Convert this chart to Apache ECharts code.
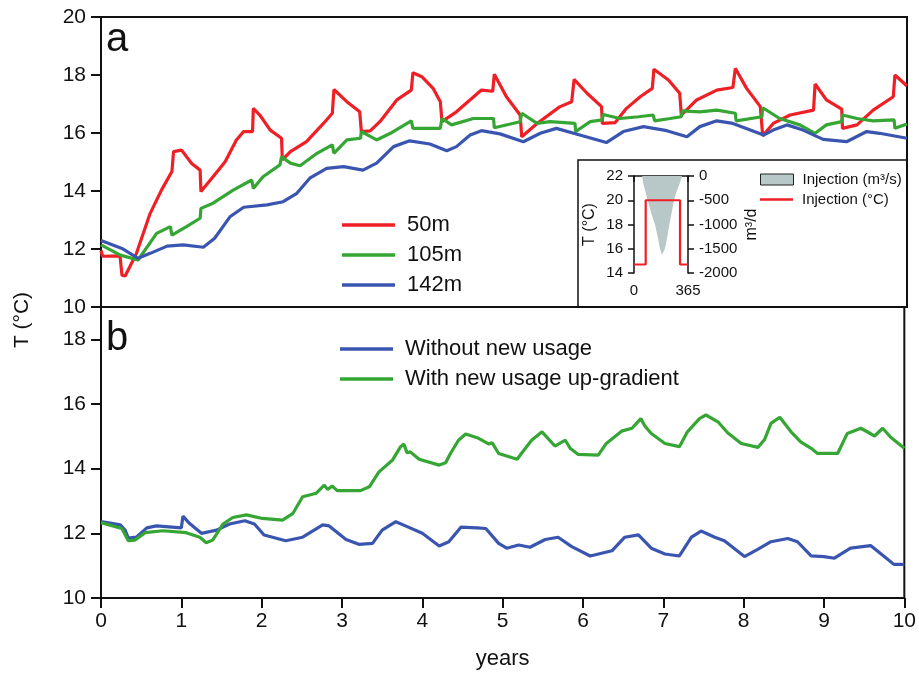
<!DOCTYPE html>
<html>
<head>
<meta charset="utf-8">
<script src="https://cdn.jsdelivr.net/npm/echarts@6/dist/echarts.min.js"></script>
<style>
  html, body { margin: 0; padding: 0; background: #fff; }
  #chart { width: 919px; height: 677px; }
</style>
</head>
<body>
<div id="chart"></div>
<script>
// ---- Panel a: observation wells at three depths, [years, °C] ----
const well50m = [
  [0, 11.95], [0.02, 11.75], [0.236, 11.76], [0.26, 11.1], [0.3, 11.07], [0.44, 11.85],
  [0.61, 13.23], [0.75, 14.03], [0.88, 14.67], [0.9, 15.36], [1.0, 15.41], [1.125, 14.95],
  [1.23, 14.72], [1.24, 13.98], [1.39, 14.49], [1.54, 15.01], [1.68, 15.76], [1.77, 16.05],
  [1.88, 16.05], [1.89, 16.85], [1.97, 16.62], [2.1, 16.1], [2.24, 15.82], [2.25, 15.07],
  [2.35, 15.36], [2.55, 15.7], [2.76, 16.33], [2.87, 16.68], [2.89, 17.5], [3.05, 17.08],
  [3.21, 16.73], [3.23, 16.05], [3.34, 16.07], [3.46, 16.39], [3.67, 17.14], [3.85, 17.48],
  [3.87, 18.08], [3.98, 17.94], [4.12, 17.54], [4.21, 17.08], [4.23, 16.39], [4.41, 16.73],
  [4.72, 17.48], [4.86, 17.44], [4.88, 18.03], [5.03, 17.25], [5.2, 16.62], [5.22, 15.87],
  [5.41, 16.33], [5.69, 16.9], [5.84, 17.08], [5.87, 17.85], [6.03, 17.37], [6.21, 16.91],
  [6.22, 16.33], [6.38, 16.36], [6.52, 16.85], [6.69, 17.25], [6.84, 17.54], [6.86, 18.2],
  [7.04, 17.83], [7.18, 17.37], [7.2, 16.62], [7.39, 17.14], [7.64, 17.48], [7.84, 17.57],
  [7.87, 18.23], [8.01, 17.54], [8.18, 16.91], [8.21, 15.9], [8.34, 16.33], [8.55, 16.62],
  [8.84, 16.79], [8.86, 17.69], [9.0, 17.14], [9.19, 16.82], [9.2, 16.16], [9.38, 16.28],
  [9.58, 16.79], [9.83, 17.25], [9.85, 18.0], [10.0, 17.62]
];
const well105m = [
  [0, 12.14], [0.24, 11.79], [0.46, 11.62], [0.69, 12.54], [0.86, 12.77], [0.88, 12.48],
  [1.06, 12.77], [1.23, 13.06], [1.24, 13.4], [1.39, 13.58], [1.64, 14.03], [1.87, 14.38],
  [1.89, 14.09], [2.01, 14.49], [2.22, 14.9], [2.24, 15.18], [2.35, 14.96], [2.47, 14.87],
  [2.68, 15.3], [2.87, 15.59], [2.89, 15.3], [3.05, 15.76], [3.22, 15.82], [3.23, 16.05],
  [3.42, 15.76], [3.59, 15.99], [3.85, 16.42], [3.87, 16.16], [4.21, 16.16], [4.23, 16.5],
  [4.35, 16.28], [4.62, 16.5], [4.87, 16.5], [4.88, 16.18], [5.2, 16.39], [5.22, 16.68],
  [5.41, 16.33], [5.57, 16.39], [5.88, 16.33], [5.89, 16.05], [6.07, 16.39], [6.22, 16.45],
  [6.23, 16.64], [6.44, 16.5], [6.67, 16.56], [6.85, 16.62], [6.87, 16.42], [7.06, 16.5],
  [7.2, 16.56], [7.21, 16.76], [7.43, 16.73], [7.64, 16.79], [7.87, 16.68], [7.88, 16.42],
  [8.2, 16.56], [8.21, 16.87], [8.42, 16.5], [8.67, 16.28], [8.86, 15.99], [9.0, 16.28],
  [9.19, 16.39], [9.2, 16.62], [9.38, 16.5], [9.58, 16.42], [9.84, 16.45], [9.85, 16.16],
  [10.0, 16.31]
];
const well142m = [
  [0, 12.29], [0.26, 12.02], [0.46, 11.68], [0.61, 11.85], [0.82, 12.1], [1.02, 12.14],
  [1.27, 12.06], [1.41, 12.37], [1.6, 13.11], [1.77, 13.44], [2.06, 13.52], [2.26, 13.63],
  [2.43, 13.92], [2.59, 14.44], [2.8, 14.78], [3.01, 14.84], [3.25, 14.72], [3.42, 14.96],
  [3.63, 15.53], [3.83, 15.73], [4.08, 15.62], [4.29, 15.39], [4.41, 15.53], [4.58, 15.93],
  [4.72, 16.08], [4.95, 15.97], [5.24, 15.7], [5.45, 15.99], [5.65, 16.16], [5.94, 15.93],
  [6.27, 15.67], [6.48, 16.05], [6.73, 16.22], [7.02, 16.08], [7.27, 15.87], [7.43, 16.22],
  [7.64, 16.42], [7.84, 16.33], [8.22, 15.93], [8.34, 16.1], [8.51, 16.28], [8.71, 16.1],
  [8.96, 15.78], [9.25, 15.7], [9.5, 16.05], [9.66, 15.99], [10.0, 15.82]
];

// ---- Panel b: scenario comparison, [years, °C] ----
const withoutUsage = [
  [0, 12.36], [0.24, 12.26], [0.3, 12.1], [0.34, 11.85], [0.44, 11.88], [0.57, 12.17],
  [0.69, 12.23], [1.0, 12.17], [1.02, 12.53], [1.1, 12.31], [1.25, 12.0], [1.44, 12.1],
  [1.6, 12.29], [1.79, 12.39], [1.91, 12.29], [2.03, 11.95], [2.3, 11.77], [2.51, 11.88],
  [2.76, 12.26], [2.84, 12.23], [3.05, 11.81], [3.21, 11.66], [3.38, 11.69], [3.5, 12.1],
  [3.67, 12.36], [3.79, 12.23], [4.0, 12.0], [4.21, 11.61], [4.33, 11.74], [4.48, 12.19],
  [4.68, 12.17], [4.79, 12.15], [4.95, 11.69], [5.05, 11.54], [5.2, 11.64], [5.34, 11.57],
  [5.53, 11.81], [5.69, 11.88], [5.86, 11.59], [6.09, 11.3], [6.36, 11.46], [6.52, 11.88],
  [6.69, 11.95], [6.85, 11.54], [7.02, 11.36], [7.2, 11.3], [7.35, 11.88], [7.47, 12.07],
  [7.64, 11.88], [7.76, 11.77], [8.01, 11.28], [8.18, 11.51], [8.34, 11.74], [8.55, 11.84],
  [8.67, 11.74], [8.84, 11.3], [9.0, 11.28], [9.13, 11.23], [9.33, 11.54], [9.58, 11.62],
  [9.75, 11.28], [9.87, 11.04], [10.0, 11.04]
];
const withUsage = [
  [0, 12.33], [0.26, 12.15], [0.34, 11.77], [0.42, 11.79], [0.55, 12.02], [0.77, 12.08],
  [1.06, 12.02], [1.23, 11.88], [1.31, 11.71], [1.39, 11.79], [1.52, 12.29], [1.64, 12.49],
  [1.81, 12.57], [2.01, 12.46], [2.26, 12.41], [2.39, 12.62], [2.51, 13.13], [2.68, 13.24],
  [2.78, 13.49], [2.82, 13.36], [2.88, 13.46], [2.94, 13.32], [3.23, 13.32], [3.34, 13.44],
  [3.46, 13.9], [3.63, 14.27], [3.73, 14.68], [3.77, 14.76], [3.81, 14.49], [3.85, 14.52],
  [3.96, 14.29], [4.21, 14.11], [4.29, 14.18], [4.35, 14.47], [4.45, 14.88], [4.54, 15.07],
  [4.7, 14.94], [4.83, 14.76], [4.87, 14.8], [4.95, 14.47], [5.18, 14.29], [5.24, 14.49],
  [5.36, 14.88], [5.49, 15.14], [5.65, 14.7], [5.78, 14.88], [5.84, 14.63], [5.94, 14.44],
  [6.19, 14.42], [6.29, 14.78], [6.48, 15.16], [6.61, 15.25], [6.72, 15.55], [6.77, 15.32],
  [6.85, 15.09], [7.02, 14.78], [7.2, 14.68], [7.3, 15.14], [7.45, 15.55], [7.53, 15.66],
  [7.68, 15.45], [7.8, 15.11], [7.97, 14.78], [8.18, 14.66], [8.26, 14.9], [8.34, 15.4],
  [8.45, 15.59], [8.59, 15.14], [8.71, 14.83], [8.84, 14.63], [8.92, 14.47], [9.17, 14.47],
  [9.29, 15.09], [9.46, 15.25], [9.63, 15.01], [9.73, 15.25], [9.83, 14.97], [10.0, 14.63]
];

// ---- Inset: yearly injection cycle, [day of year, value] ----
const injectionRate = [
  [55, 0], [62, -150], [75, -300], [92, -500], [115, -750], [142, -1000], [160, -1250],
  [176, -1500], [189, -1630], [209, -1500], [225, -1250], [239, -1000], [255, -750],
  [270, -500], [290, -300], [310, -150], [325, 0]
];
const injectionTemp = [
  [0, 14.7], [79, 14.7], [79, 20], [311, 20], [311, 14.7], [365, 14.7]
];

const RED = '#ee1f25', GREEN = '#35a634', BLUE = '#3a55b0';
const FONT = 'Liberation Sans, Arial, sans-serif';

const chart = echarts.init(document.getElementById('chart'), null, { renderer: 'canvas' });

const axisLine = { show: true, lineStyle: { color: '#111', width: 2 } };
const axisTick = { show: true, inside: false, length: 10, lineStyle: { color: '#111', width: 2 } };
const mainLabel = { fontFamily: FONT, fontSize: 21, color: '#111' };
const insetLine = { show: true, lineStyle: { color: '#111', width: 1.5 } };
const insetTick = { show: true, inside: false, length: 6, lineStyle: { color: '#111', width: 1.5 } };
const insetLabel = { fontFamily: FONT, fontSize: 15, color: '#111', formatter: v => String(v) };

function lineSeries(name, data, color, xi, yi, width) {
  return {
    name, type: 'line', data, xAxisIndex: xi, yAxisIndex: yi,
    symbol: 'none', smooth: false, color,
    lineStyle: { color, width: width || 3.2 },
    animation: false, z: 3
  };
}

// legend rows drawn as flat strokes
const legendText = { fontFamily: FONT, fontSize: 22, color: '#111', lineHeight: 20, padding: [0, 0, 0, 7] };
const insetLegendText = { fontFamily: FONT, fontSize: 15, color: '#111', lineHeight: 14, padding: [0, 0, 0, 4] };

const option = {
  backgroundColor: '#fff',
  animation: false,
  grid: [
    { left: 101, top: 17, width: 806, height: 290, show: true, borderColor: '#111', borderWidth: 2, containLabel: false },
    { left: 101, top: 307, width: 806, height: 291, show: true, borderColor: '#111', borderWidth: 2, containLabel: false },
    { left: 634, top: 176, width: 54, height: 97, show: false, containLabel: false }
  ],
  xAxis: [
    { type: 'value', gridIndex: 0, min: 0, max: 10, interval: 1,
      axisLine, axisTick: { show: false }, axisLabel: { show: false }, splitLine: { show: false } },
    { type: 'value', gridIndex: 1, min: 0, max: 10, interval: 1,
      axisLine, axisTick, axisLabel: Object.assign({ margin: 13 }, mainLabel), splitLine: { show: false },
      name: 'years', nameLocation: 'middle', nameGap: 50,
      nameTextStyle: { fontFamily: FONT, fontSize: 22, color: '#111' } },
    { type: 'value', gridIndex: 2, min: 0, max: 365, interval: 365,
      axisLine: insetLine, axisTick: insetTick, axisLabel: Object.assign({ margin: 10 }, insetLabel),
      splitLine: { show: false } }
  ],
  yAxis: [
    { type: 'value', gridIndex: 0, min: 10, max: 20, interval: 2,
      axisLine, axisTick, axisLabel: Object.assign({ margin: 15 }, mainLabel), splitLine: { show: false } },
    { type: 'value', gridIndex: 1, min: 10, max: 19, interval: 2,
      axisLine, axisTick, axisLabel: Object.assign({ margin: 15, showMaxLabel: false }, mainLabel),
      splitLine: { show: false } },
    { type: 'value', gridIndex: 2, min: 14, max: 22, interval: 2, position: 'left',
      axisLine: insetLine, axisTick: insetTick, axisLabel: Object.assign({ margin: 11 }, insetLabel),
      splitLine: { show: false },
      name: 'T (°C)', nameLocation: 'middle', nameRotate: 90, nameGap: 36,
      nameTextStyle: { fontFamily: FONT, fontSize: 16, color: '#111' } },
    { type: 'value', gridIndex: 2, min: -2000, max: 0, interval: 500, position: 'right',
      axisLine: insetLine, axisTick: insetTick, axisLabel: Object.assign({ margin: 11 }, insetLabel),
      splitLine: { show: false },
      name: 'm³/d', nameLocation: 'middle', nameRotate: 90, nameGap: 56,
      nameTextStyle: { fontFamily: FONT, fontSize: 16, color: '#111' } }
  ],
  legend: [
    { data: ['50m', '105m', '142m'], icon: 'rect', orient: 'vertical', left: 342, top: 214, padding: 0,
      itemWidth: 53, itemHeight: 3.5, itemGap: 8, selectedMode: false, textStyle: legendText },
    { data: ['Without new usage', 'With new usage up-gradient'], icon: 'rect', orient: 'vertical',
      left: 340, top: 338, padding: 0, itemWidth: 53, itemHeight: 3.5, itemGap: 8, selectedMode: false,
      textStyle: legendText },
    { data: [{ name: 'Injection (m³/s)', icon: 'rect',
               itemStyle: { color: '#b8c8c8', borderColor: '#222', borderWidth: 1 } }],
      orient: 'vertical', left: 760, top: 172, padding: 0,
      itemWidth: 33, itemHeight: 11, selectedMode: false, textStyle: insetLegendText },
    { data: [{ name: 'Injection (°C)', icon: 'rect' }],
      orient: 'vertical', left: 760, top: 192, padding: 0,
      itemWidth: 33, itemHeight: 2.4, selectedMode: false, textStyle: insetLegendText }
  ],
  graphic: [
    { type: 'rect', shape: { x: 578, y: 160, width: 329, height: 147 },
      style: { fill: 'none', stroke: '#111', lineWidth: 1.5 }, z: 2 },
    { type: 'text', x: 106, y: 40,
      style: { text: 'a', fontFamily: FONT, fontSize: 40, fill: '#111', verticalAlign: 'middle' } },
    { type: 'text', x: 106, y: 339,
      style: { text: 'b', fontFamily: FONT, fontSize: 40, fill: '#111', verticalAlign: 'middle' } },
    { type: 'text', x: 22, y: 320, rotation: Math.PI / 2,
      style: { text: 'T (°C)', fontFamily: FONT, fontSize: 21, fill: '#111', align: 'center', verticalAlign: 'middle' } }
  ],
  series: [
    lineSeries('50m', well50m, RED, 0, 0),
    lineSeries('105m', well105m, GREEN, 0, 0),
    lineSeries('142m', well142m, BLUE, 0, 0),
    lineSeries('Without new usage', withoutUsage, BLUE, 1, 1),
    lineSeries('With new usage up-gradient', withUsage, GREEN, 1, 1),
    { name: 'Injection (m³/s)', type: 'line', data: injectionRate, xAxisIndex: 2, yAxisIndex: 3,
      symbol: 'none', color: '#b8c8c8', lineStyle: { width: 0 },
      areaStyle: { color: '#b8c8c8', opacity: 1 }, z: 2 },
    lineSeries('Injection (°C)', injectionTemp, RED, 2, 2, 2.2)
  ]
};

chart.setOption(option);
</script>
</body>
</html>
